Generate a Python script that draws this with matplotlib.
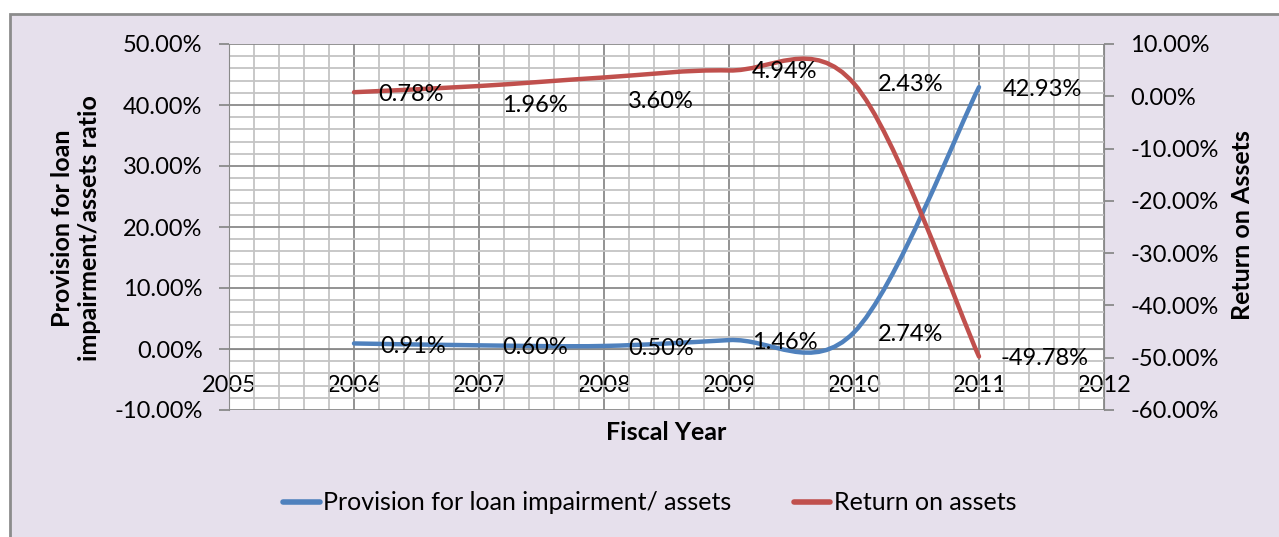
import numpy as np
import matplotlib.pyplot as plt
from matplotlib.path import Path
from matplotlib.patches import PathPatch, Rectangle
from matplotlib.ticker import MultipleLocator, PercentFormatter
from matplotlib.lines import Line2D

plt.rcParams['font.family'] = ['Lato', 'DejaVu Sans']
plt.rcParams['axes.unicode_minus'] = False

years = [2006, 2007, 2008, 2009, 2010, 2011]
provision = [0.91, 0.60, 0.50, 1.46, 2.74, 42.93]
roa = [0.78, 1.96, 3.60, 4.94, 2.43, -49.78]
prov_labels = ["0.91%", "0.60%", "0.50%", "1.46%", "2.74%", "42.93%"]
roa_labels = ["0.78%", "1.96%", "3.60%", "4.94%", "2.43%", "-49.78%"]
# label offsets in pixels (right of the point, as Excel does)
prov_offsets = [(26, -3), (23, -2), (24, -3), (23, -2), (24, -2), (24, -2)]
roa_offsets = [(24, -2), (23, -19), (24, -24), (23, -1), (24, -1), (21, -2)]

blue = "#4F81BD"
red = "#C0504D"
bg = "#E6E0EC"
fs = 17


def smooth_path(x, y):
    # Excel style smoothed line: cubic bezier through the points
    n = len(x)
    verts = [(x[0], y[0])]
    codes = [Path.MOVETO]
    for i in range(n - 1):
        a = i - 1 if i > 0 else i
        d = i + 2 if i + 2 < n else i + 1
        c1 = (x[i] + (x[i + 1] - x[a]) / 6, y[i] + (y[i + 1] - y[a]) / 6)
        c2 = (x[i + 1] - (x[d] - x[i]) / 6, y[i + 1] - (y[d] - y[i]) / 6)
        verts += [c1, c2, (x[i + 1], y[i + 1])]
        codes += [Path.CURVE4] * 3
    return Path(verts, codes)


fig = plt.figure(figsize=(12.79, 5.37), dpi=100, facecolor="white")
fig.patches.append(Rectangle((9.5 / 1279, -0.1), 1.2, 1.1 - 14 / 537, transform=fig.transFigure,
                             facecolor=bg, edgecolor="#8c8c8c", lw=2, zorder=-5))
ax = fig.add_axes([229 / 1279, 1 - 410 / 537, 875 / 1279, 366 / 537])
ax.set_facecolor("white")
ax2 = ax.twinx()

ax.set_xlim(2005, 2012)
ax.set_ylim(-10, 50)
ax2.set_ylim(-60, 10)

ax.xaxis.set_major_locator(MultipleLocator(1))
ax.xaxis.set_minor_locator(MultipleLocator(0.2))
ax.yaxis.set_major_locator(MultipleLocator(10))
ax.yaxis.set_minor_locator(MultipleLocator(2))
ax2.yaxis.set_major_locator(MultipleLocator(10))
ax.yaxis.set_major_formatter(PercentFormatter(decimals=2))
ax2.yaxis.set_major_formatter(PercentFormatter(decimals=2))
ax.xaxis.set_major_formatter(lambda v, p: f"{int(round(v))}")

ax.grid(True, which="major", color="#8a8a8a", lw=1.3)
ax.grid(True, which="minor", color="#c4c4c4", lw=1.3)
ax.set_axisbelow(True)

ax.spines["top"].set_visible(False)
ax2.spines["top"].set_visible(False)
ax.spines["bottom"].set_position(("data", 0))
ax.spines["bottom"].set_color("#8a8a8a")
ax.spines["left"].set_color("#8a8a8a")
ax2.spines["right"].set_color("#8a8a8a")
ax2.spines["left"].set_visible(False)
ax2.spines["bottom"].set_visible(False)
ax.spines["right"].set_visible(False)

ax.tick_params(axis="x", which="both", length=0, pad=19, labelsize=fs)
ax.tick_params(axis="y", which="major", length=7, width=1.3, color="#8a8a8a", pad=12, labelsize=fs)
ax.tick_params(axis="y", which="minor", length=0)
ax2.tick_params(axis="y", which="major", length=7, width=1.3, color="#8a8a8a", pad=12, labelsize=fs)

ax.add_patch(PathPatch(smooth_path(years, provision), fill=False, edgecolor=blue,
                       lw=3.2, capstyle="round", zorder=3))
ax2.add_patch(PathPatch(smooth_path(years, roa), fill=False, edgecolor=red,
                        lw=3.2, capstyle="round", zorder=3))

for x, y, t, o in zip(years, provision, prov_labels, prov_offsets):
    ax.annotate(t, (x, y), xytext=o, textcoords="offset pixels", ha="left", va="center",
                fontsize=fs, zorder=5)
for x, y, t, o in zip(years, roa, roa_labels, roa_offsets):
    ax2.annotate(t, (x, y), xytext=o, textcoords="offset pixels", ha="left", va="center",
                 fontsize=fs, zorder=5)

fig.text(76 / 1279, 1 - 228 / 537, "Provision for loan\nimpairment/assets ratio", rotation=90,
         ha="center", va="center", fontsize=18, fontweight="bold", linespacing=1.2)
fig.text(1243 / 1279, 1 - 225 / 537, "Return on Assets", rotation=90, ha="center", va="center",
         fontsize=18, fontweight="bold")
fig.text(666 / 1279, 1 - 432 / 537, "Fiscal Year", ha="center", va="center",
         fontsize=18, fontweight="bold")

handles = [Line2D([], [], color=blue, lw=4, solid_capstyle="round"),
           Line2D([], [], color=red, lw=4, solid_capstyle="round")]
fig.legend(handles, ["Provision for loan impairment/ assets", "Return on assets"],
           loc="center", bbox_to_anchor=(650 / 1279, 1 - 503 / 537), ncol=2, frameon=False,
           fontsize=18, handlelength=1.45, handletextpad=0.15, columnspacing=2.5)

fig.savefig("out.png", dpi=100, facecolor="white")
